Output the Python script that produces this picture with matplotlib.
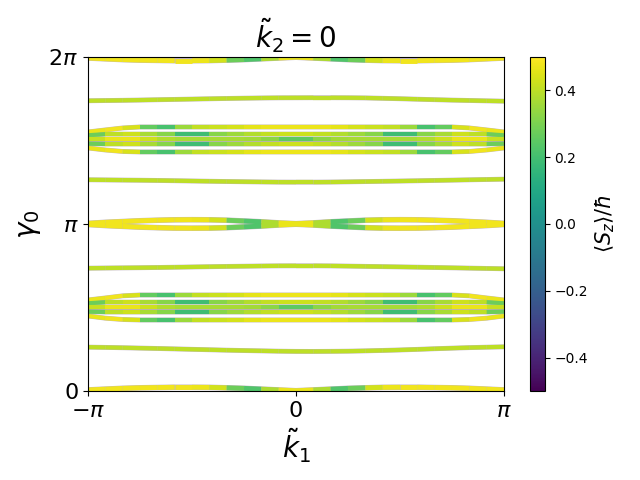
import matplotlib
matplotlib.use("Agg")
import matplotlib.pyplot as plt
import numpy as np
from matplotlib.collections import LineCollection
from matplotlib.colors import Normalize
from matplotlib.cm import ScalarMappable

# k1 sample points from -pi to pi (step pi/12)
k1 = np.linspace(-np.pi, np.pi, 25)

# gamma_0 of each band (radians)
lens0_upper = [0.020, 0.035, 0.050, 0.060, 0.065, 0.070, 0.070, 0.068, 0.060, 0.050, 0.035, 0.020, 0.005,
               0.020, 0.035, 0.050, 0.060, 0.068, 0.070, 0.070, 0.065, 0.060, 0.050, 0.035, 0.020]
lens2pi_lower = [6.263, 6.248, 6.233, 6.223, 6.218, 6.213, 6.213, 6.215, 6.223, 6.233, 6.248, 6.263, 6.278,
                 6.263, 6.248, 6.233, 6.223, 6.215, 6.213, 6.213, 6.218, 6.223, 6.233, 6.248, 6.263]
lenspi_upper = [3.152, 3.172, 3.187, 3.202, 3.212, 3.220, 3.222, 3.220, 3.212, 3.197, 3.182, 3.162, 3.147,
                3.162, 3.182, 3.197, 3.212, 3.220, 3.222, 3.220, 3.212, 3.202, 3.187, 3.172, 3.152]
lenspi_lower = [3.132, 3.112, 3.097, 3.082, 3.072, 3.064, 3.062, 3.064, 3.072, 3.087, 3.102, 3.122, 3.137,
                3.122, 3.102, 3.087, 3.072, 3.064, 3.062, 3.064, 3.072, 3.082, 3.097, 3.112, 3.132]

band_low1 = [0.825, 0.820, 0.814, 0.807, 0.800, 0.792, 0.784, 0.776, 0.768, 0.761, 0.755, 0.749, 0.745,
             0.744, 0.746, 0.749, 0.755, 0.763, 0.772, 0.783, 0.795, 0.806, 0.816, 0.824, 0.831]
band_high1 = [5.459, 5.463, 5.467, 5.472, 5.478, 5.484, 5.490, 5.496, 5.502, 5.507, 5.511, 5.514, 5.515,
              5.516, 5.516, 5.515, 5.512, 5.505, 5.497, 5.488, 5.479, 5.471, 5.464, 5.457, 5.451]
band_high2 = [3.973, 3.970, 3.967, 3.964, 3.960, 3.955, 3.950, 3.945, 3.940, 3.936, 3.932, 3.929, 3.928,
              3.928, 3.930, 3.934, 3.939, 3.944, 3.949, 3.954, 3.960, 3.966, 3.972, 3.978, 3.984]
band_low2 = [2.310, 2.313, 2.316, 2.319, 2.323, 2.328, 2.333, 2.338, 2.343, 2.347, 2.351, 2.354, 2.355,
             2.355, 2.353, 2.349, 2.344, 2.339, 2.334, 2.329, 2.323, 2.317, 2.311, 2.305, 2.299]

# cluster around 3pi/2
hi_a = [4.872, 4.910, 4.947, 4.966, 4.966, 4.966, 4.966, 4.966, 4.966, 4.966, 4.966, 4.966, 4.966,
        4.966, 4.966, 4.966, 4.966, 4.966, 4.966, 4.966, 4.966, 4.966, 4.947, 4.910, 4.872]
hi_b = [4.810, 4.831, 4.831, 4.831, 4.831, 4.831, 4.831, 4.831, 4.831, 4.831, 4.831, 4.831, 4.831,
        4.831, 4.831, 4.831, 4.831, 4.831, 4.831, 4.831, 4.831, 4.831, 4.831, 4.831, 4.810]
hi_c = [4.737, 4.737, 4.737, 4.737, 4.737, 4.737, 4.737, 4.737, 4.737, 4.737, 4.737, 4.737, 4.737,
        4.737, 4.737, 4.737, 4.737, 4.737, 4.737, 4.737, 4.737, 4.737, 4.737, 4.737, 4.737]
hi_d = [4.652, 4.646, 4.646, 4.646, 4.646, 4.646, 4.646, 4.646, 4.646, 4.646, 4.646, 4.646, 4.646,
        4.646, 4.646, 4.646, 4.646, 4.646, 4.646, 4.646, 4.646, 4.646, 4.646, 4.646, 4.652]
hi_e = [4.571, 4.533, 4.505, 4.496, 4.496, 4.496, 4.496, 4.496, 4.496, 4.496, 4.496, 4.496, 4.496,
        4.496, 4.496, 4.496, 4.496, 4.496, 4.496, 4.496, 4.496, 4.496, 4.505, 4.533, 4.571]

# cluster around pi/2
lo_a = [1.712, 1.750, 1.790, 1.806, 1.806, 1.806, 1.806, 1.806, 1.806, 1.806, 1.806, 1.806, 1.806,
        1.806, 1.806, 1.806, 1.806, 1.806, 1.806, 1.806, 1.806, 1.806, 1.790, 1.750, 1.712]
lo_b = [1.650, 1.670, 1.670, 1.670, 1.670, 1.670, 1.670, 1.670, 1.670, 1.670, 1.670, 1.670, 1.670,
        1.670, 1.670, 1.670, 1.670, 1.670, 1.670, 1.670, 1.670, 1.670, 1.670, 1.670, 1.650]
lo_c = [1.576, 1.576, 1.576, 1.576, 1.576, 1.576, 1.576, 1.576, 1.576, 1.576, 1.576, 1.576, 1.576,
        1.576, 1.576, 1.576, 1.576, 1.576, 1.576, 1.576, 1.576, 1.576, 1.576, 1.576, 1.576]
lo_d = [1.492, 1.486, 1.486, 1.486, 1.486, 1.486, 1.486, 1.486, 1.486, 1.486, 1.486, 1.486, 1.486,
        1.486, 1.486, 1.486, 1.486, 1.486, 1.486, 1.486, 1.486, 1.486, 1.486, 1.486, 1.492]
lo_e = [1.411, 1.370, 1.345, 1.336, 1.336, 1.336, 1.336, 1.336, 1.336, 1.336, 1.336, 1.336, 1.336,
        1.336, 1.336, 1.336, 1.336, 1.336, 1.336, 1.336, 1.336, 1.336, 1.345, 1.370, 1.411]

# <S_z>/hbar along the bands
sz_lens = [0.48, 0.48, 0.48, 0.48, 0.48, 0.48, 0.48, 0.46, 0.40, 0.15, 0.30, 0.45, 0.48,
           0.45, 0.30, 0.15, 0.40, 0.46, 0.48, 0.48, 0.48, 0.48, 0.48, 0.48, 0.48]
sz_outer = [0.45, 0.48, 0.48, 0.40, 0.12, 0.30, 0.40, 0.42, 0.42, 0.45, 0.47, 0.47, 0.47,
            0.47, 0.47, 0.45, 0.42, 0.42, 0.40, 0.30, 0.12, 0.40, 0.48, 0.48, 0.45]
sz_inner = [0.20, 0.35, 0.45, 0.40, 0.34, 0.30, 0.08, 0.30, 0.34, 0.37, 0.40, 0.42, 0.43,
            0.42, 0.40, 0.37, 0.34, 0.30, 0.08, 0.30, 0.34, 0.40, 0.45, 0.35, 0.20]
sz_mid = [0.38, 0.45, 0.48, 0.45, 0.40, 0.37, 0.37, 0.37, 0.37, 0.37, 0.35, 0.30, 0.20,
          0.30, 0.35, 0.37, 0.37, 0.37, 0.37, 0.37, 0.40, 0.45, 0.48, 0.45, 0.38]
sz_single = 0.40

norm = Normalize(vmin=-0.5, vmax=0.5)
edge_color = '#a898a8'


def draw_band(ax, gamma, sz, lw=3.0):
    gamma = np.asarray(gamma)
    sz = np.broadcast_to(np.asarray(sz, dtype=float), gamma.shape)
    pts = np.column_stack([k1, gamma]).reshape(-1, 1, 2)
    segs = np.concatenate([pts[:-1], pts[1:]], axis=1)
    # thin greyish rim like the scatter edges in the original
    ax.plot(k1, gamma, color=edge_color, lw=lw + 0.5, alpha=0.7,
            solid_capstyle='butt', zorder=1)
    lc = LineCollection(segs, cmap='viridis', norm=norm, linewidths=lw,
                        capstyle='butt', joinstyle='round', zorder=2)
    lc.set_array((sz[:-1] + sz[1:]) / 2)
    ax.add_collection(lc)


fig = plt.figure(figsize=(6.4, 4.8), dpi=100)
ax = fig.add_axes([0.1375, 0.1854, 0.65, 0.696])

for g in [lens0_upper, lens2pi_lower, lenspi_upper, lenspi_lower]:
    draw_band(ax, g, sz_lens, lw=3.5)
for g in [band_low1, band_high1, band_high2, band_low2]:
    draw_band(ax, g, sz_single)
for g in [hi_a, hi_e, lo_a, lo_e]:
    draw_band(ax, g, sz_outer)
for g in [hi_b, hi_d, lo_b, lo_d]:
    draw_band(ax, g, sz_inner)
for g in [hi_c, lo_c]:
    draw_band(ax, g, sz_mid)

ax.set_xlim(-np.pi, np.pi)
ax.set_ylim(0, 2 * np.pi)
ax.set_xticks([-np.pi, 0, np.pi])
ax.set_xticklabels([r'$-\pi$', '0', r'$\pi$'], fontsize=16)
ax.set_yticks([0, np.pi, 2 * np.pi])
ax.set_yticklabels(['0', r'$\pi$', r'$2\pi$'], fontsize=16)
ax.set_xlabel(r'$\tilde{k}_1$', fontsize=20)
ax.set_ylabel(r'$\gamma_0$', fontsize=20)
ax.set_title(r'$\tilde{k}_2 = 0$', fontsize=20)

cax = fig.add_axes([0.828, 0.1854, 0.0234, 0.696])
sm = ScalarMappable(norm=norm, cmap='viridis')
cb = fig.colorbar(sm, cax=cax)
cb.set_ticks([-0.4, -0.2, 0.0, 0.2, 0.4])
cb.set_label(r'$\langle S_z\rangle/\hbar$', fontsize=15)

fig.savefig('out.png', dpi=100)
